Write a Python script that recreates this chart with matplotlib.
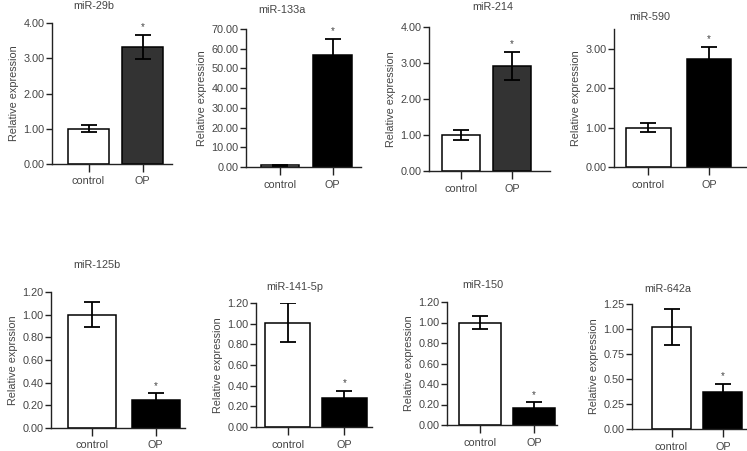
import numpy as np
import matplotlib
matplotlib.use("Agg")
import matplotlib.pyplot as plt

plt.rcParams['font.family'] = ['Liberation Sans', 'DejaVu Sans']

# data
mirnas = ['miR-29b', 'miR-133a', 'miR-214', 'miR-590',
          'miR-125b', 'miR-141-5p', 'miR-150', 'miR-642a']
groups = ['control', 'OP']
control_mean = [1.00, 0.90, 1.00, 1.00, 1.00, 1.01, 1.00, 1.02]
control_err = [0.10, 0.30, 0.13, 0.11, 0.11, 0.19, 0.06, 0.18]
op_mean = [3.32, 56.8, 2.92, 2.73, 0.245, 0.28, 0.17, 0.37]
op_err = [0.35, 8.2, 0.38, 0.32, 0.06, 0.07, 0.05, 0.08]
yticks = [[0, 1, 2, 3, 4], [0, 10, 20, 30, 40, 50, 60, 70], [0, 1, 2, 3, 4],
          [0, 1, 2, 3], [0, 0.2, 0.4, 0.6, 0.8, 1.0, 1.2],
          [0, 0.2, 0.4, 0.6, 0.8, 1.0, 1.2], [0, 0.2, 0.4, 0.6, 0.8, 1.0, 1.2],
          [0, 0.25, 0.5, 0.75, 1.0, 1.25]]
ytop = [4, 70, 4, 3.5, 1.2, 1.2, 1.2, 1.25]
ylabels = ['Relative expression'] * 8
ylabels[4] = 'Relative exprssion'
op_colors = ['#333333', 'black', '#333333', 'black', 'black', 'black', 'black', 'black']

# layout in pixels: x0, x1, y of zero, y of top, xlim left, xlim right, title x, title y
W, H = 747, 451
layout = [
    (52, 172, 164, 23, -0.676, 1.546, 94, 6),
    (246, 361, 167, 29, -0.65, 1.54, 282, 10),
    (429, 550, 171, 27, -0.63, 1.75, 493, 7),
    (614, 747, 167, 29, -0.57, 1.63, 650, 17),
    (51, 185, 428, 292, -0.65, 1.46, 97, 265),
    (256, 372, 427, 303, -0.56, 1.49, 295, 287),
    (447, 557, 425, 302, -0.61, 1.43, 483, 285),
    (632, 747, 429, 304, -0.77, 1.47, 668, 289),
]
bar_w = [0.76, 0.73, 0.76, 0.74, 0.75, 0.79, 0.78, 0.76]

fig = plt.figure(figsize=(W / 100, H / 100), dpi=100)
txt = '#444444'
fs = 7.8

for i, name in enumerate(mirnas):
    x0, x1, yb, yt, xl, xr, tx, ty = layout[i]
    ax = fig.add_axes([x0 / W, 1 - yb / H, (x1 - x0) / W, (yb - yt) / H])
    x = np.arange(2)
    ax.bar(x, [control_mean[i], op_mean[i]], width=bar_w[i],
           color=['white', op_colors[i]], edgecolor='black', linewidth=1.1, zorder=2)
    ax.errorbar(x, [control_mean[i], op_mean[i]], yerr=[control_err[i], op_err[i]],
                fmt='none', ecolor='black', elinewidth=1.3, capsize=6, capthick=1.3, zorder=3)
    ax.text(1, op_mean[i] + op_err[i] + ytop[i] * 0.02, '*', ha='center', va='bottom',
            fontsize=7, color=txt)
    ax.set_xlim(xl, xr)
    ax.set_ylim(0, ytop[i])
    ax.set_yticks(yticks[i])
    ax.set_yticklabels(['%.2f' % v for v in yticks[i]])
    ax.set_xticks(x)
    ax.set_xticklabels(groups)
    ax.spines['top'].set_visible(False)
    ax.spines['right'].set_visible(False)
    for s in ['left', 'bottom']:
        ax.spines[s].set_color('#222222')
        ax.spines[s].set_linewidth(1.0)
    ax.tick_params(axis='y', length=4, width=1.0, labelsize=fs, colors=txt, pad=1.5)
    ax.tick_params(axis='y', colors='#222222', labelcolor=txt)
    ax.tick_params(axis='x', length=6, width=1.0, labelsize=fs, colors='#222222',
                   labelcolor=txt, pad=3)
    ax.set_ylabel(ylabels[i], fontsize=fs, color=txt, labelpad=3)
    fig.text(tx / W, 1 - ty / H, name, ha='center', va='center', fontsize=fs, color=txt)

fig.savefig('out.png', dpi=100, facecolor='white')
